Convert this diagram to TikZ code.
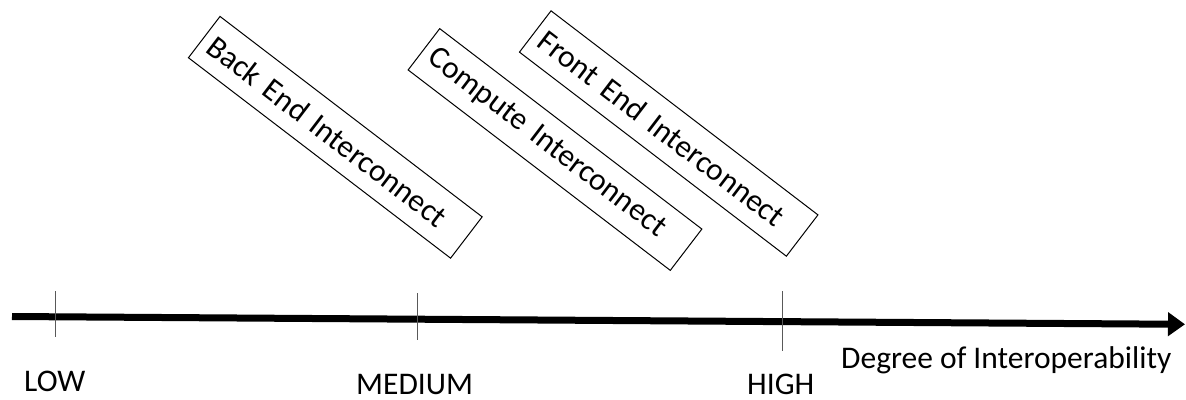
\documentclass[tikz,border=0pt]{standalone}
\usepackage{fontspec}
\setmainfont{Carlito}
\usetikzlibrary{arrows.meta}
\begin{document}
\begin{tikzpicture}[x=1pt,y=1pt,
  every node/.style={font=\fontsize{31.5}{38}\selectfont},
  ifbox/.style={draw=black,line width=1pt,rotate=-37.4,minimum height=52pt,
    inner xsep=9pt,inner ysep=0pt,align=left},
  lbl/.style={anchor=base west,inner sep=0pt},
  tickline/.style={draw=black!65,line width=1pt},
  axisline/.style={line width=7pt,-{Triangle[length=17pt,width=23pt]}}]
\useasboundingbox (0,0) rectangle (1186,-399);
% boxes
\node[ifbox,text width=312pt] (be) at (335.3,-137.3) {Back End Interconnect};
\node[ifbox,text width=312pt] (cp) at (555,-149.5) {Compute Interconnect};
\node[ifbox,text width=318pt] (fe) at (668.7,-133.5) {Front End Interconnect};
% axis
\coordinate (a0) at (12,-316.5);
\coordinate (a1) at (1185,-324.3);
\draw[axisline] (a0) -- (a1);
% ticks
\coordinate (t1a) at (55,-291); \coordinate (t1b) at (55,-337);
\coordinate (t2a) at (417,-293); \coordinate (t2b) at (417,-340);
\coordinate (t3a) at (782,-291); \coordinate (t3b) at (782,-351);
\draw[tickline] (t1a) -- (t1b);
\draw[tickline] (t2a) -- (t2b);
\draw[tickline] (t3a) -- (t3b);
% labels
\node[lbl] (low) at (24,-391) {LOW};
\node[lbl] (med) at (356,-394) {MEDIUM};
\node[lbl] (high) at (747,-394) {HIGH};
\node[lbl] (deg) at (841,-368) {Degree of Interoperability};
\end{tikzpicture}
\end{document}
